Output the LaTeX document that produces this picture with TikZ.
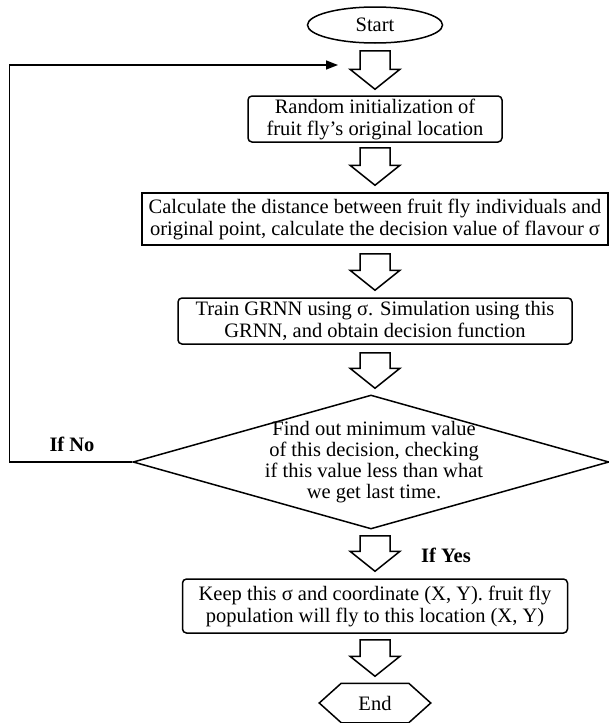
\documentclass[tikz,border=0pt]{standalone}
\usepackage{fontspec}
\setmainfont{Liberation Serif}
\usetikzlibrary{shapes.geometric,arrows.meta,calc}
\newcommand\blkarrow[2]{\draw[blk] ($(#1)+(-15,0)$) -- ($(#1)+(15,0)$) -- ($(#2)+(15,-20)$) -- ($(#2)+(25,-20)$) -- (#2) -- ($(#2)+(-25,-20)$) -- ($(#2)+(-15,-20)$) -- cycle;}
\begin{document}
\begin{tikzpicture}[x=1pt,y=-1pt, line width=1.5pt,
  every node/.style={font=\fontsize{20.5}{22}\selectfont},
  box/.style={draw, rounded corners=4pt, align=center, inner sep=0pt},
  blk/.style={draw, line width=1.5pt, line join=miter, fill=white},
  lbl/.style={font=\fontsize{20.5}{22}\selectfont\bfseries},
  fb/.style={-{Triangle[length=12pt,width=9pt]}}]
\useasboundingbox (0,0) rectangle (609,723);

\node[draw, ellipse, minimum width=135pt, minimum height=36pt, inner sep=0pt] (start) at (375,25) {Start};
\node[box, minimum width=254pt, minimum height=46pt] (b1) at (375,119) {Random initialization of\\fruit fly’s original location};
\node[box, sharp corners, minimum width=466pt, minimum height=52pt] (b2) at (375,219) {Calculate the distance between fruit fly individuals and\\original point, calculate the decision value of flavour σ};
\node[box, minimum width=394pt, minimum height=46pt] (b3) at (375,321) {Train GRNN using σ. Simulation using this\\GRNN, and obtain decision function};
\node[draw, diamond, minimum width=476pt, minimum height=134pt, inner sep=0pt] (dec) at (371,462) {};
\node[align=center, inner sep=0pt, font=\fontsize{20.5}{21}\selectfont] (dtext) at (374,462) {Find out minimum value\\of this decision, checking\\if this value less than what\\we get last time.};
\node[box, minimum width=385pt, minimum height=54pt] (b5) at (375,606) {Keep this σ and coordinate (X, Y). fruit fly\\population will fly to this location (X, Y)};
\node[minimum width=66pt, minimum height=38pt, inner sep=0pt] (end) at (375,703) {End};
\draw (end.north west) -- (end.north east) -- ($(end.east)+(22,0)$) -- (end.south east) -- (end.south west) -- ($(end.west)+(-22,0)$) -- cycle;

\coordinate (a1t) at ($(start.south)+(0,7)$);
\coordinate (a1b) at ($(a1t |- b1.north)+(0,-6)$);
\coordinate (a2t) at ($(b1.south)+(0,5)$);
\coordinate (a2b) at ($(a2t |- b2.north)+(0,-7)$);
\coordinate (a3t) at ($(b2.south)+(0,8)$);
\coordinate (a3b) at ($(a3t |- b3.north)+(0,-7)$);
\coordinate (a4t) at ($(b3.south)+(0,8)$);
\coordinate (a4b) at ($(a4t |- dec.north)+(0,-6)$);
\coordinate (a5t) at ($(a4t |- dec.south)+(0,6)$);
\coordinate (a5b) at ($(a5t |- b5.north)+(0,-7)$);
\coordinate (a6t) at ($(b5.south)+(0,6)$);
\coordinate (a6b) at ($(a6t |- end.north)+(0,-7)$);
\blkarrow{a1t}{a1b}
\blkarrow{a2t}{a2b}
\blkarrow{a3t}{a3b}
\blkarrow{a4t}{a4b}
\blkarrow{a5t}{a5b}
\blkarrow{a6t}{a6b}

\coordinate (fbtip) at (338,65);
\draw[fb] (dec.west) -- ++(-123,0) |- (fbtip);

\node[lbl] (ifno) at (72,444) {If No};
\node[lbl] (ifyes) at (446,555) {If Yes};
\end{tikzpicture}
\end{document}
